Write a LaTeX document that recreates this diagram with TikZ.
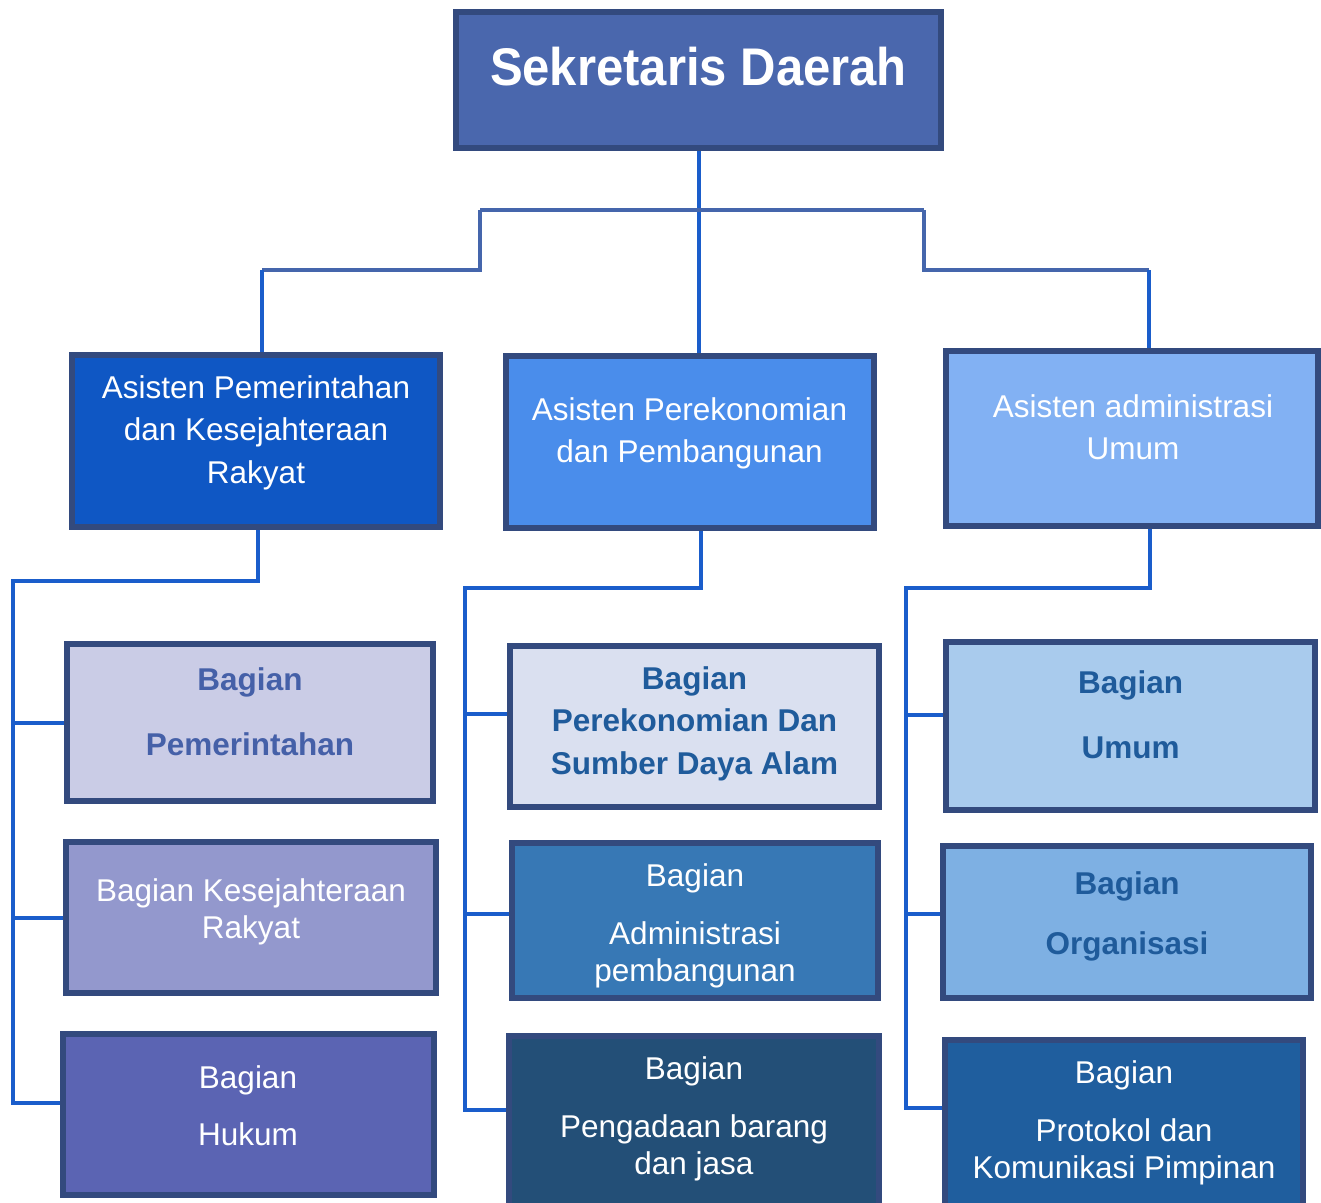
\documentclass[tikz,border=0pt]{standalone}
\usepackage{fontspec}
\setmainfont{Liberation Sans}
\definecolor{bord}{HTML}{334A7E}
\definecolor{cTop}{HTML}{4A67AD}
\definecolor{cAL}{HTML}{0F57C4}
\definecolor{cAM}{HTML}{4A8DEB}
\definecolor{cAR}{HTML}{82B1F3}
\definecolor{cB1}{HTML}{CACCE6}
\definecolor{cB2}{HTML}{9398CD}
\definecolor{cB3}{HTML}{5B64B3}
\definecolor{cM1}{HTML}{DAE0F0}
\definecolor{cM2}{HTML}{3778B5}
\definecolor{cM3}{HTML}{234F77}
\definecolor{cR1}{HTML}{A9CBED}
\definecolor{cR2}{HTML}{7EB0E3}
\definecolor{cR3}{HTML}{1F5E9E}
\definecolor{tPem}{HTML}{4560A8}
\definecolor{tBlu}{HTML}{1F5B9B}
\definecolor{cV}{HTML}{1A5DCB}
\definecolor{cH}{HTML}{4566AC}
\begin{document}
\begin{tikzpicture}[x=1pt,y=-1pt,
  box/.style={draw=bord,line width=4pt,rectangle,inner sep=0pt},
  txt/.style={inner sep=0pt,align=center,anchor=north,font=\fontsize{31.5}{37}\selectfont},
  btxt/.style={txt,font=\fontsize{31.5}{37}\selectfont\bfseries},
  vline/.style={draw=cV,line width=4pt},
  hline/.style={draw=cH,line width=4pt}]
\useasboundingbox (0,0) rectangle (1321,1202);
\clip (0,0) rectangle (1321,1202);
\fill[white] (0,0) rectangle (1321,1202);

% connectors (drawn first)
\coordinate (jL) at (480,210);
\coordinate (jR) at (924,210);
\coordinate (tL) at (13,581);
\coordinate (tM) at (465,588);
\coordinate (tR) at (906,588);

% boxes
\node[box,fill=cTop,minimum width=483pt,minimum height=134pt] (top) at (698.5,80) {};
\node[box,fill=cAL,minimum width=366pt,minimum height=170pt] (asL) at (256,441) {};
\node[box,fill=cAM,minimum width=366pt,minimum height=170pt] (asM) at (690,442) {};
\node[box,fill=cAR,minimum width=370pt,minimum height=173pt] (asR) at (1132,438.5) {};
\node[box,fill=cB1,minimum width=364pt,minimum height=155pt] (b1) at (250,722.5) {};
\node[box,fill=cB2,minimum width=368pt,minimum height=149pt] (b2) at (251,917.5) {};
\node[box,fill=cB3,minimum width=369pt,minimum height=159pt] (b3) at (248.5,1114.5) {};
\node[box,fill=cM1,minimum width=367pt,minimum height=159pt] (m1) at (694.5,726.5) {};
\node[box,fill=cM2,minimum width=364pt,minimum height=153pt] (m2) at (695,920.5) {};
\node[box,fill=cM3,minimum width=368pt,minimum height=176pt] (m3) at (694,1125) {};
\node[box,fill=cR1,minimum width=367pt,minimum height=166pt] (r1) at (1130.5,726) {};
\node[box,fill=cR2,minimum width=366pt,minimum height=150pt] (r2) at (1127,922) {};
\node[box,fill=cR3,minimum width=356pt,minimum height=172pt] (r3) at (1124,1127) {};

% top level connectors
\draw[vline] (top.south) -- (top.south |- asM.north);
\draw[hline] (jL) -- (jR);
\draw[hline] (jL) -- (480,270) -- (262,270);
\draw[vline] (262,270) -- ([xshift=6pt]asL.north);
\draw[hline] (jR) -- (924,270) -- (1149,270);
\draw[vline] (1149,270) -- ([xshift=17pt]asR.north);

% left column connectors
\coordinate (b1w) at (b1.west);
\coordinate (b2w) at (b2.west);
\coordinate (b3w) at ([yshift=11.5pt]b3.west);
\draw[vline] ([xshift=2pt]asL.south) |- (tL) |- (b3w);
\draw[vline] (b1w) -- (b1w -| tL);
\draw[vline] (b2w) -- (b2w -| tL);

% middle column connectors
\coordinate (m1w) at ([yshift=12.5pt]m1.west);
\coordinate (m2w) at ([yshift=6.5pt]m2.west);
\coordinate (m3w) at ([yshift=15pt]m3.west);
\draw[vline] ([xshift=11pt]asM.south) |- (tM) |- (m3w);
\draw[vline] (m1w) -- (m1w -| tM);
\draw[vline] (m2w) -- (m2w -| tM);

% right column connectors
\coordinate (r1w) at ([yshift=11pt]r1.west);
\coordinate (r2w) at ([yshift=8pt]r2.west);
\coordinate (r3w) at ([yshift=19pt]r3.west);
\draw[vline] ([xshift=18pt]asR.south) |- (tR) |- (r3w);
\draw[vline] (r1w) -- (r1w -| tR);
\draw[vline] (r2w) -- (r2w -| tR);

% redraw borders on top of connector ends
\foreach \n in {top,asL,asM,asR,b1,b2,b3,m1,m2,m3,r1,r2,r3}{
  \draw[draw=bord,line width=4pt] (\n.north west) rectangle (\n.south east);
}

% texts
\node[inner sep=0pt,anchor=north,text=white,font=\fontsize{53}{60}\selectfont\bfseries] (topt) at (698.5,47) {\scalebox{0.925}[1]{Sekretaris Daerah}};
\node[txt,text=white,font=\fontsize{31.5}{42.5}\selectfont] (asLt) at (256,375) {Asisten Pemerintahan\\dan Kesejahteraan\\Rakyat};
\node[txt,text=white,font=\fontsize{31.5}{42.5}\selectfont] (asMt) at (689.5,397) {Asisten Perekonomian\\dan Pembangunan};
\node[txt,text=white,font=\fontsize{31.5}{42.5}\selectfont] (asRt) at (1133,394) {Asisten administrasi\\Umum};
\node[btxt,text=tPem] (b1t) at (250,667) {Bagian\\[28pt]Pemerintahan};
\node[txt,text=white] (b2t) at (251,878) {Bagian Kesejahteraan\\Rakyat};
\node[txt,text=white] (b3t) at (248,1065) {Bagian\\[20pt]Hukum};
\node[btxt,text=tBlu,font=\fontsize{31.5}{42.5}\selectfont\bfseries] (m1t) at (694.5,666) {Bagian\\Perekonomian Dan\\Sumber Daya Alam};
\node[txt,text=white] (m2t) at (695,863) {Bagian\\[21pt]Administrasi\\pembangunan};
\node[txt,text=white] (m3t) at (694,1056) {Bagian\\[21pt]Pengadaan barang\\dan jasa};
\node[btxt,text=tBlu] (r1t) at (1130.5,670) {Bagian\\[28pt]Umum};
\node[btxt,text=tBlu] (r2t) at (1127,871) {Bagian\\[23pt]Organisasi};
\node[txt,text=white] (r3t) at (1124,1060) {Bagian\\[21pt]Protokol dan\\Komunikasi Pimpinan};
\end{tikzpicture}
\end{document}
